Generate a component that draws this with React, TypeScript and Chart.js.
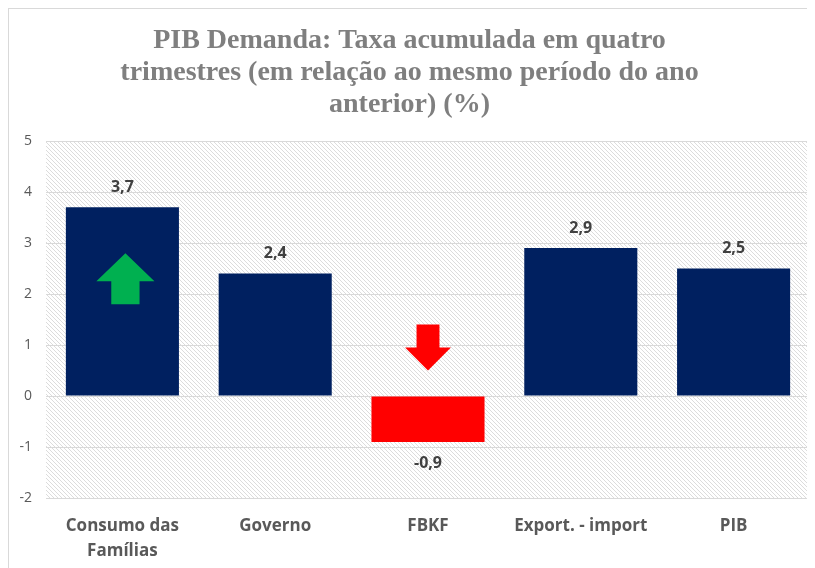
import React, { useEffect, useRef } from "react";
import { Chart, registerables } from "chart.js";

Chart.register(...registerables);

const titleLines = [
  "PIB Demanda: Taxa acumulada em quatro",
  "trimestres (em relação ao mesmo período do ano",
  "anterior) (%)",
];
const categories: (string | string[])[] = [
  ["Consumo das", "Famílias"],
  "Governo",
  "FBKF",
  "Export. - import",
  "PIB",
];
const values = [3.7, 2.4, -0.9, 2.9, 2.5];
const barColors = ["#002060", "#002060", "#ff0000", "#002060", "#002060"];
const yTicks = { min: -2, max: 5, step: 1 };

// arrow annotations (data units)
const arrowCategory = [0, 2];
const arrowFrom = [1.8, 1.4];
const arrowNeck = [2.25, 0.95];
const arrowTo = [2.8, 0.5];
const arrowColors = ["#00b050", "#ff0000"];

const fmt = (v: number) => v.toFixed(1).replace(".", ",");

function makePattern(ctx: CanvasRenderingContext2D) {
  const c = document.createElement("canvas");
  c.width = 4;
  c.height = 4;
  const p = c.getContext("2d")!;
  p.fillStyle = "#ffffff";
  p.fillRect(0, 0, 4, 4);
  p.fillStyle = "#dcdcdc";
  for (let i = 0; i < 4; i++) p.fillRect(i, i, 1, 1);
  return ctx.createPattern(c, "repeat");
}

const hatchPlugin = {
  id: "hatch",
  beforeDraw(chart: any) {
    const { ctx, chartArea } = chart;
    const pat = makePattern(ctx);
    if (!pat) return;
    ctx.save();
    ctx.fillStyle = pat;
    ctx.fillRect(chartArea.left, chartArea.top, chartArea.right - chartArea.left, chartArea.bottom - chartArea.top);
    ctx.restore();
  },
};

const labelPlugin = {
  id: "valueLabels",
  afterDatasetsDraw(chart: any) {
    const { ctx } = chart;
    const meta = chart.getDatasetMeta(0);
    ctx.save();
    ctx.font = "bold 16px 'Open Sans'";
    ctx.fillStyle = "#404040";
    ctx.textAlign = "center";
    ctx.textBaseline = "middle";
    meta.data.forEach((bar: any, i: number) => {
      const v = values[i];
      const y = v >= 0 ? bar.y - 20 : bar.y + 22;
      ctx.fillText(fmt(v), bar.x, y);
    });
    ctx.restore();
  },
};

const arrowPlugin = {
  id: "arrows",
  afterDatasetsDraw(chart: any) {
    const { ctx } = chart;
    const xs = chart.scales.x;
    const ys = chart.scales.y;
    const catW = (xs.right - xs.left) / categories.length;
    arrowCategory.forEach((cat, i) => {
      const cx = xs.getPixelForValue(cat) + (i === 0 ? 3 : 0);
      const yFrom = ys.getPixelForValue(arrowFrom[i]);
      const yNeck = ys.getPixelForValue(arrowNeck[i]);
      const yTo = ys.getPixelForValue(arrowTo[i]);
      const headW = catW * (i === 0 ? 0.38 : 0.3);
      const shaftW = catW * (i === 0 ? 0.185 : 0.15);
      ctx.save();
      ctx.fillStyle = arrowColors[i];
      ctx.beginPath();
      ctx.moveTo(cx - shaftW / 2, yFrom);
      ctx.lineTo(cx - shaftW / 2, yNeck);
      ctx.lineTo(cx - headW / 2, yNeck);
      ctx.lineTo(cx, yTo);
      ctx.lineTo(cx + headW / 2, yNeck);
      ctx.lineTo(cx + shaftW / 2, yNeck);
      ctx.lineTo(cx + shaftW / 2, yFrom);
      ctx.closePath();
      ctx.fill();
      ctx.restore();
    });
  },
};

export default function App() {
  const ref = useRef<HTMLCanvasElement>(null);
  useEffect(() => {
    if (!ref.current) return;
    const chart = new Chart(ref.current, {
      type: "bar",
      data: {
        labels: categories,
        datasets: [
          {
            data: values,
            backgroundColor: barColors,
            borderWidth: 0,
            categoryPercentage: 1,
            barPercentage: 0.74,
          },
        ],
      },
      options: {
        animation: false,
        responsive: true,
        maintainAspectRatio: false,
        layout: { padding: { left: 0, right: 5, top: 16, bottom: 0 } },
        plugins: {
          legend: { display: false },
          tooltip: { enabled: false },
          title: {
            display: true,
            text: titleLines,
            color: "#7f7f7f",
            font: { family: "'Liberation Serif'", size: 28, weight: "bold", lineHeight: 1.143 },
            padding: { top: 0, bottom: 20 },
          },
        },
        scales: {
          x: {
            grid: { display: false },
            border: { display: false },
            ticks: {
              color: "#595959",
              font: { family: "'Open Sans'", size: 17, weight: "bold", lineHeight: 1.47 },
              padding: 8,
              maxRotation: 0,
              autoSkip: false,
            },
            afterFit: (scale: any) => {
              scale.height -= 4;
            },
          },
          y: {
            min: yTicks.min,
            max: yTicks.max,
            grid: { color: "#d9d9d9", lineWidth: 1, drawTicks: false },
            border: { display: false },
            ticks: {
              stepSize: yTicks.step,
              color: "#595959",
              font: { family: "'Open Sans'", size: 14 },
              padding: 14,
            },
            afterFit: (scale: any) => {
              scale.width = 37;
            },
          },
        },
      },
      plugins: [hatchPlugin, labelPlugin, arrowPlugin],
    });
    return () => chart.destroy();
  }, []);
  return (
    <div
      style={{
        width: 807,
        height: 560,
        boxSizing: "border-box",
        borderTop: "1px solid #d9d9d9",
        borderLeft: "1px solid #d9d9d9",
        position: "relative",
      }}
    >
      <canvas ref={ref} />
    </div>
  );
}
